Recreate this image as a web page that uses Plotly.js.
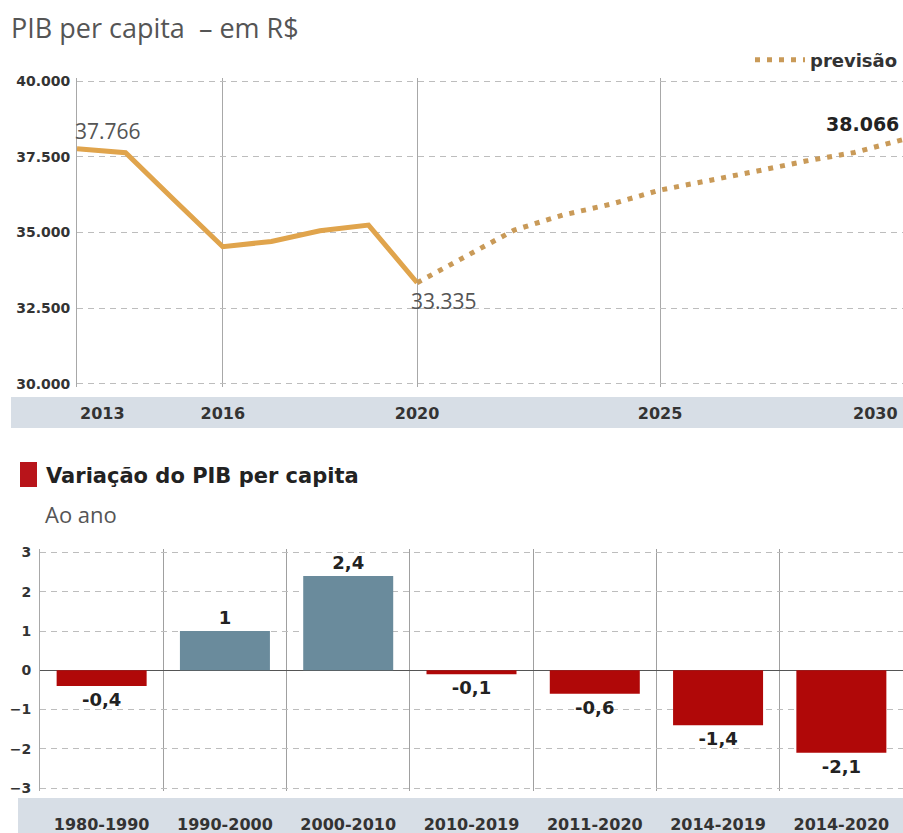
<!DOCTYPE html>
<html>
<head>
<meta charset="utf-8">
<script src="https://cdn.plot.ly/plotly-3.0.1.min.js"></script>
<style>
  html, body { margin: 0; padding: 0; background: #fff; }
  #chart { width: 903px; height: 833px; }
</style>
</head>
<body>
<div id="chart"></div>
<script>
// ---- Top chart data: PIB per capita (R$) ----
const histYears = [2013, 2014, 2015, 2016, 2017, 2018, 2019, 2020];
const histValues = [37766, 37630, 36070, 34524, 34700, 35050, 35240, 33335];
const fcstYears = [2020, 2021, 2022, 2023, 2024, 2025, 2026, 2027, 2028, 2029, 2030];
const fcstValues = [33335, 34217, 35076, 35572, 35935, 36397, 36694, 37025, 37355, 37640, 38066];
const topInnerTicks = [2016, 2020, 2025];   // drawn as axis ticks
const topEdgeTicks = [2013, 2030];          // drawn at the plot edges, aligned inward
const topYTicks = [30000, 32500, 35000, 37500, 40000];

// ---- Bottom chart data: Variação do PIB per capita (% ao ano) ----
const periods = ['1980-1990', '1990-2000', '2000-2010', '2010-2019', '2011-2020', '2014-2019', '2014-2020'];
const variation = [-0.4, 1, 2.4, -0.1, -0.6, -1.4, -2.1];
const bottomYTicks = [-3, -2, -1, 0, 1, 2, 3];

const ORANGE = '#e0a44c';
const RED = '#b00808';
const BLUEGREY = '#6a8b9c';
const BAND = '#d7dee6';
const W = 903, H = 833;
const px = v => v / W;          // x pixel -> paper fraction
const py = v => 1 - v / H;      // y pixel (from top) -> paper fraction

function fmtThousands(n) {
  return n.toString().replace(/\B(?=(\d{3})+(?!\d))/g, '.');
}
function fmtDecimal(n) {
  return n.toString().replace('.', ',');
}
const tickFontTop = { family: 'DejaVu Sans', size: 16, color: '#333', weight: 'bold' };

const traces = [
  {
    x: histYears, y: histValues, type: 'scatter', mode: 'lines',
    line: { color: ORANGE, width: 5 }, xaxis: 'x', yaxis: 'y',
    showlegend: false, hoverinfo: 'skip'
  },
  {
    x: fcstYears, y: fcstValues, type: 'scatter', mode: 'lines',
    name: 'previsão',
    line: { color: '#c99a58', width: 5, dash: '5px,7px' }, xaxis: 'x', yaxis: 'y',
    showlegend: true, hoverinfo: 'skip'
  },
  {
    x: periods, y: variation, type: 'bar', xaxis: 'x2', yaxis: 'y2',
    marker: { color: variation.map(v => v < 0 ? RED : BLUEGREY) },
    text: variation.map(fmtDecimal), textposition: 'outside',
    textfont: { family: 'DejaVu Sans', size: 18, color: '#222', weight: 'bold' },
    cliponaxis: false, showlegend: false, hoverinfo: 'skip'
  }
];

const layout = {
  width: W, height: H,
  margin: { l: 0, r: 0, t: 0, b: 0 },
  paper_bgcolor: '#fff', plot_bgcolor: 'rgba(0,0,0,0)',
  separators: ',.',
  bargap: 0.27,
  title: {
    text: 'PIB per capita  – em R$',
    x: px(11), xanchor: 'left', xref: 'paper',
    y: py(29), yanchor: 'middle', yref: 'paper',
    font: { family: 'Open Sans', size: 27, color: '#555' }
  },
  legend: {
    x: 1, xanchor: 'right', y: py(60), yanchor: 'middle',
    bgcolor: 'rgba(0,0,0,0)', borderwidth: 0, itemwidth: 50,
    font: { family: 'DejaVu Sans', size: 18, color: '#333', weight: 'bold' },
    itemclick: false, itemdoubleclick: false
  },
  xaxis: {
    domain: [px(77), 1], range: [2013, 2030], type: 'linear',
    tickvals: topInnerTicks,
    showgrid: true, gridcolor: '#a8a8a8', gridwidth: 1,
    showline: false, zeroline: false, ticks: '',
    ticklabelstandoff: 15,
    tickfont: tickFontTop,
    fixedrange: true, anchor: 'y'
  },
  yaxis: {
    domain: [py(386.7), py(78)], range: [29900, 40100],
    tickvals: topYTicks, tickformat: ',d',
    showgrid: true, gridcolor: '#bdbdbd', gridwidth: 1, griddash: '6px,5px',
    showline: true, linecolor: '#a8a8a8', linewidth: 1,
    zeroline: false, ticks: '', ticklabelstandoff: 3,
    tickfont: { family: 'DejaVu Sans', size: 14, color: '#333', weight: 'bold' },
    fixedrange: true, anchor: 'x'
  },
  xaxis2: {
    domain: [px(40), 1], type: 'category', range: [-0.5, 6.5],
    tickson: 'boundaries', showgrid: true, gridcolor: '#a0a0a0', gridwidth: 1,
    showline: false, zeroline: false, ticks: '',
    ticklabelstandoff: 22,
    tickfont: { family: 'DejaVu Sans', size: 16, color: '#333', weight: 'bold' },
    fixedrange: true, anchor: 'y2'
  },
  yaxis2: {
    domain: [py(791.3), py(549.3)], range: [-3.08, 3.08],
    tickvals: bottomYTicks,
    showgrid: true, gridcolor: '#bdbdbd', gridwidth: 1, griddash: '6px,5px',
    showline: true, linecolor: '#a8a8a8', linewidth: 1,
    zeroline: true, zerolinecolor: '#555', zerolinewidth: 1.5,
    ticks: '', ticklabelstandoff: 5,
    tickfont: { family: 'DejaVu Sans', size: 14, color: '#333', weight: 'bold' },
    fixedrange: true, anchor: 'x2'
  },
  shapes: [
    { type: 'rect', xref: 'paper', yref: 'paper', x0: px(11), x1: 1, y0: py(428), y1: py(397),
      fillcolor: BAND, line: { width: 0 }, layer: 'below' },
    { type: 'rect', xref: 'paper', yref: 'paper', x0: px(18), x1: 1, y0: 0, y1: py(798),
      fillcolor: BAND, line: { width: 0 }, layer: 'below' },
    { type: 'rect', xref: 'paper', yref: 'paper', x0: px(20), x1: px(37), y0: py(487), y1: py(462),
      fillcolor: '#b8141a', line: { width: 0 } }
  ],
  annotations: [
    // edge year labels of the top x axis, aligned inward
    { xref: 'x', yref: 'paper', x: topEdgeTicks[0], y: py(413), text: String(topEdgeTicks[0]),
      showarrow: false, xanchor: 'left', yanchor: 'middle', xshift: 1, font: tickFontTop },
    { xref: 'x', yref: 'paper', x: topEdgeTicks[1], y: py(413), text: String(topEdgeTicks[1]),
      showarrow: false, xanchor: 'right', yanchor: 'middle', xshift: -3, font: tickFontTop },
    { xref: 'x', yref: 'y', x: histYears[0], y: histValues[0],
      text: fmtThousands(histValues[0]), showarrow: false,
      xanchor: 'center', yanchor: 'middle', xshift: 31, yshift: 18,
      font: { family: 'Open Sans', size: 21, color: '#555' } },
    { xref: 'x', yref: 'y', x: histYears[histYears.length - 1], y: histValues[histValues.length - 1],
      text: fmtThousands(histValues[histValues.length - 1]), showarrow: false,
      xanchor: 'center', yanchor: 'middle', xshift: 27, yshift: -18,
      font: { family: 'Open Sans', size: 21, color: '#555' } },
    { xref: 'x', yref: 'y', x: fcstYears[fcstYears.length - 1], y: fcstValues[fcstValues.length - 1],
      text: fmtThousands(fcstValues[fcstValues.length - 1]), showarrow: false,
      xanchor: 'right', yanchor: 'middle', xshift: -2, yshift: 16,
      font: { family: 'DejaVu Sans', size: 19, color: '#222', weight: 'bold' } },
    { xref: 'paper', yref: 'paper', x: px(44), y: py(476), xanchor: 'left', yanchor: 'middle',
      text: 'Variação do PIB per capita', showarrow: false,
      font: { family: 'DejaVu Sans', size: 21, color: '#222', weight: 'bold' } },
    { xref: 'paper', yref: 'paper', x: px(43), y: py(514), xanchor: 'left', yanchor: 'middle',
      text: 'Ao ano', showarrow: false,
      font: { family: 'Open Sans', size: 22, color: '#555' } }
  ]
};

Plotly.newPlot('chart', traces, layout, { staticPlot: true, displayModeBar: false });
</script>
</body>
</html>
